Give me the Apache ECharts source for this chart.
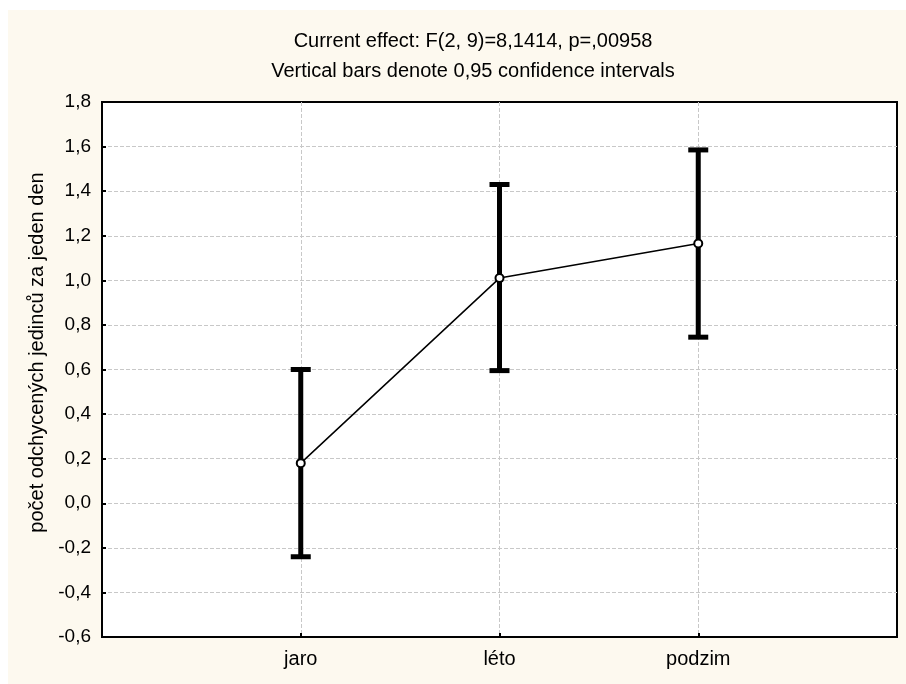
<!DOCTYPE html>
<html>
<head>
<meta charset="utf-8">
<script src="https://cdn.jsdelivr.net/npm/echarts@6/dist/echarts.min.js"></script>
<style>
  html, body { margin: 0; padding: 0; background: #ffffff; }
  #main { position: absolute; left: 8px; top: 10px; width: 898px; height: 674px; }
</style>
</head>
<body>
<div id="main"></div>
<script>
// data
var categories = ['jaro', 'léto', 'podzim'];
var means = [0.18, 1.01, 1.165];
var lower = [-0.24, 0.595, 0.745];
var upper = [0.60, 1.43, 1.585];

var chartDom = document.getElementById('main');
var myChart = echarts.init(chartDom);
var option;

function fmt(v) {
  return v.toFixed(1).replace('.', ',');
}

var meanData = means.map(function (m, i) { return [i + 1, m]; });
var ciData = means.map(function (m, i) { return [i + 1, lower[i], upper[i]]; });

option = {
  backgroundColor: '#fdf9ef',
  animation: false,
  textStyle: { fontFamily: 'Liberation Sans, Arial, sans-serif' },
  title: {
    text: 'Current effect: F(2, 9)=8,1414, p=,00958\nVertical bars denote 0,95 confidence intervals',
    left: 465,
    textAlign: 'center',
    top: 16,
    padding: 0,
    textStyle: { fontSize: 20, fontWeight: 'normal', color: '#000', lineHeight: 30 }
  },
  grid: {
    left: 94,
    top: 92,
    right: 9,
    bottom: 47,
    show: true,
    backgroundColor: '#ffffff',
    borderColor: '#000',
    borderWidth: 2
  },
  xAxis: {
    type: 'value',
    min: 0,
    max: 4,
    interval: 1,
    axisLine: { show: true, onZero: false, lineStyle: { color: '#000', width: 2 } },
    axisTick: { show: true, inside: true, length: 4, lineStyle: { color: '#000', width: 2 } },
    axisLabel: {
      color: '#000',
      fontSize: 20,
      margin: 12,
      formatter: function (v) { return categories[v - 1] || ''; }
    },
    splitLine: {
      show: true, showMinLine: false, showMaxLine: false,
      lineStyle: { color: '#c8c8c8', type: [4, 2], width: 1 }
    }
  },
  yAxis: {
    type: 'value',
    min: -0.6,
    max: 1.8,
    interval: 0.2,
    name: 'počet odchycených jedinců za jeden den',
    nameLocation: 'middle',
    nameGap: 52,
    nameTextStyle: { color: '#000', fontSize: 20, padding: [0, 0, 0, 34] },
    axisLine: { show: true, lineStyle: { color: '#000', width: 2 } },
    axisTick: { show: true, inside: true, length: 4, lineStyle: { color: '#000', width: 2 } },
    axisLabel: { color: '#000', fontSize: 19, margin: 11, formatter: fmt },
    splitLine: {
      show: true, showMinLine: false, showMaxLine: false,
      lineStyle: { color: '#c8c8c8', type: [4, 2], width: 1 }
    }
  },
  series: [
    {
      name: 'CI',
      type: 'custom',
      data: ciData,
      z: 2,
      renderItem: function (params, api) {
        var x = api.value(0);
        var lo = api.coord([x, api.value(1)]);
        var hi = api.coord([x, api.value(2)]);
        var cap = 10;
        var style = { stroke: '#000', lineWidth: 5 };
        return {
          type: 'group',
          children: [
            { type: 'line', shape: { x1: lo[0], y1: lo[1], x2: hi[0], y2: hi[1] }, style: style },
            { type: 'line', shape: { x1: hi[0] - cap, y1: hi[1], x2: hi[0] + cap, y2: hi[1] }, style: style },
            { type: 'line', shape: { x1: lo[0] - cap, y1: lo[1], x2: lo[0] + cap, y2: lo[1] }, style: style }
          ]
        };
      }
    },
    {
      name: 'Mean',
      type: 'line',
      data: meanData,
      z: 3,
      symbol: 'emptyCircle',
      symbolSize: 8,
      lineStyle: { color: '#000', width: 1.5 },
      itemStyle: { color: '#000', borderWidth: 1.5 }
    }
  ]
};

option && myChart.setOption(option);
</script>
</body>
</html>
